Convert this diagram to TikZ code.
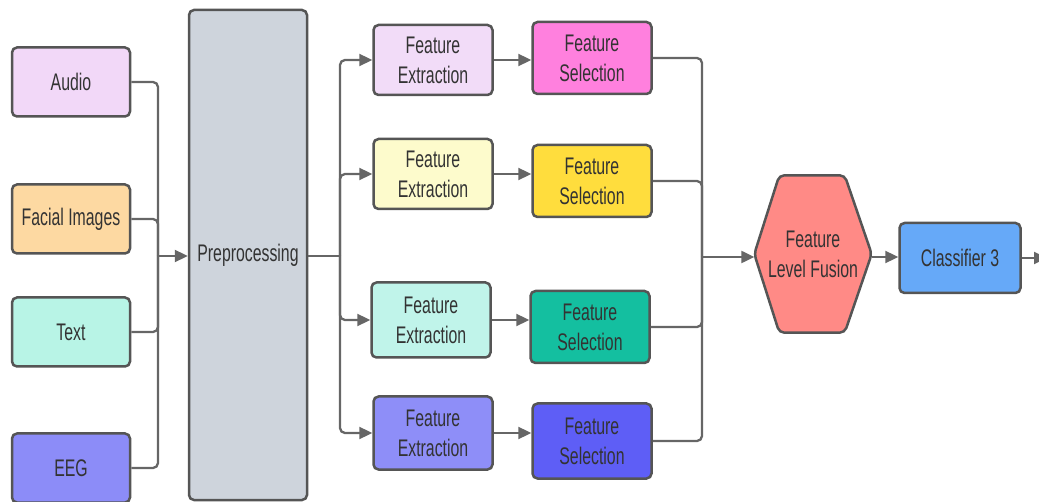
\documentclass[tikz,border=0pt]{standalone}
\usepackage{fontspec}
\newfontfamily\lblfont[FakeStretch=0.66]{Liberation Sans}
\usepackage{tikz}
\usetikzlibrary{arrows.meta,calc,backgrounds}

\definecolor{edgegray}{HTML}{555555}
\definecolor{linegray}{HTML}{666666}
\definecolor{txtgray}{HTML}{333333}
\definecolor{audiocol}{HTML}{F2D8F8}
\definecolor{facecol}{HTML}{FDD9A2}
\definecolor{textcol}{HTML}{B8F4E6}
\definecolor{eegcol}{HTML}{8C8CF8}
\definecolor{prepcol}{HTML}{CED4DC}
\definecolor{feA}{HTML}{F2DCF8}
\definecolor{fsA}{HTML}{FF80DE}
\definecolor{feB}{HTML}{FDFBCC}
\definecolor{fsB}{HTML}{FFDD3D}
\definecolor{feC}{HTML}{C0F4EA}
\definecolor{fsC}{HTML}{14BFA0}
\definecolor{feD}{HTML}{8E8EF8}
\definecolor{fsD}{HTML}{5E5EF6}
\definecolor{fusecol}{HTML}{FF8A86}
\definecolor{clscol}{HTML}{66A9F8}

\begin{document}
\begin{tikzpicture}[x=1pt,y=-1pt,
		box/.style={draw=edgegray,line width=2.5pt,rounded corners=5pt,align=center,
			text=txtgray,font=\lblfont\fontsize{24}{30}\selectfont,inner sep=0pt},
		inbox/.style={box,minimum width=118pt,minimum height=69pt},
		febox/.style={box,minimum width=119pt,minimum height=70pt},
		fsbox/.style={box,minimum width=119pt,minimum height=72pt},
		link/.style={draw=linegray,line width=2.3pt,rounded corners=5pt},
		arr/.style={link,-{Triangle[length=13pt,width=12pt]}}]
				\useasboundingbox (0,0) rectangle (1039,502);
				
				% inputs
				\node[inbox,fill=audiocol] (audio)  at (71,82)  {Audio};
				\node[inbox,fill=facecol]  (facial) at (71,219) {Facial Images};
				\node[inbox,fill=textcol]  (text)   at (71,332) {Text};
				\node[inbox,fill=eegcol]   (eeg)    at (71,468) {EEG};
				
				\node[box,fill=prepcol,minimum width=118pt,minimum height=490pt] (prep) at (248,255) {Preprocessing};
				
				% feature branches
				\node[febox,fill=feA] (feA) at (433,60)  {Feature\\Extraction};
				\node[fsbox,fill=fsA] (fsA) at (592,58)  {Feature\\Selection};
				\node[febox,fill=feB] (feB) at (433,174) {Feature\\Extraction};
				\node[fsbox,fill=fsB] (fsB) at (592,181) {Feature\\Selection};
				\node[febox,fill=feC,minimum height=75pt] (feC) at (431,320) {Feature\\Extraction};
				\node[fsbox,fill=fsC] (fsC) at (590,327) {Feature\\Selection};
				\node[febox,fill=feD,minimum height=73pt] (feD) at (433,433) {Feature\\Extraction};
				\node[fsbox,fill=fsD,minimum height=75pt] (fsD) at (592,441) {Feature\\Selection};
				
				% fusion and classifier
				\node[align=center,text=txtgray,font=\lblfont\fontsize{24}{30}\selectfont,
					minimum width=117pt,minimum height=157pt,inner sep=0pt] (fusion) at (813,254) {Feature\\Level Fusion};
				\begin{scope}[on background layer]
					\draw[draw=edgegray,fill=fusecol,line width=2.5pt,rounded corners=5pt]
						(fusion.west) -- ($(fusion.north west)+(25,0)$) -- ($(fusion.north east)+(-27,0)$)
						-- (fusion.east) -- ($(fusion.south east)+(-27,0)$) -- ($(fusion.south west)+(25,0)$) -- cycle;
				\end{scope}
				\node[box,fill=clscol,minimum width=121pt,minimum height=70pt] (cls) at (960,258) {Classifier 3};
				
				\coordinate (jin)  at (158,256);
				\coordinate (jout) at (340,256);
				\coordinate (jfus) at (702,257);
				\coordinate (out)  at (1047,258);
				
				\draw[link] (audio.east) -| (jin);
				\draw[link] (facial.east) -| (jin);
				\draw[link] (text.east) -| (jin);
				\draw[link] (eeg.east) -| (jin);
				\draw[arr] (jin) -- (prep.west |- jin);
				
				\draw[link] (prep.east |- jout) -- (jout);
				\foreach \f in {feA,feB,feC,feD}
					\draw[arr] (jout) |- (\f.west);
				\foreach \f/\s in {feA/fsA,feB/fsB,feC/fsC,feD/fsD}
					\draw[arr] (\f.east) -- (\s.west |- \f.east);
				\foreach \s in {fsA,fsB,fsC,fsD}
					\draw[link] (\s.east) -| (jfus);
				
				\draw[arr] (jfus) -- (fusion.west |- jfus);
				\draw[arr] (fusion.east |- jfus) -- (cls.west |- jfus);
				\draw[arr] (cls.east) -- (out);
			\end{tikzpicture}
\end{document}
